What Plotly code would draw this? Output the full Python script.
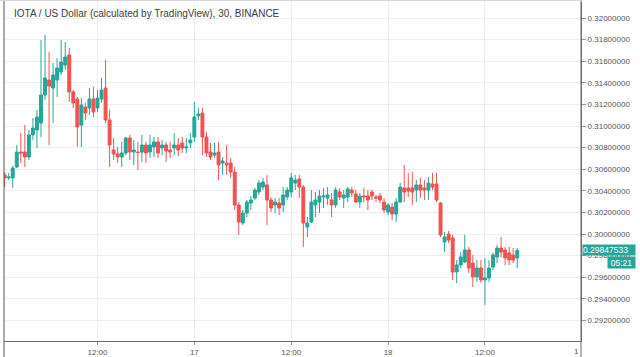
import pandas as pd
import plotly.graph_objects as go

title_text = "IOTA / US Dollar (calculated by TradingView), 30, BINANCE"
start_time = "2019-09-16 00:30"
interval = "30min"

opens = [0.30546, 0.30519, 0.30519, 0.30620, 0.30759, 0.30759, 0.30713, 0.30917, 0.30963, 0.31028,
         0.31287, 0.31426, 0.31352, 0.31426, 0.31500, 0.31565, 0.31657, 0.31315, 0.31250, 0.31009,
         0.31176, 0.31167, 0.31250, 0.31167, 0.31250, 0.31352, 0.31056, 0.30778, 0.30741, 0.30713,
         0.30750, 0.30889, 0.30759, 0.30759, 0.30759, 0.30824, 0.30759, 0.30806, 0.30852, 0.30796,
         0.30824, 0.30778, 0.30796, 0.30824, 0.30843, 0.30796, 0.30843, 0.30898, 0.31093, 0.31120,
         0.30898, 0.30759, 0.30731, 0.30759, 0.30657, 0.30657, 0.30657, 0.30574, 0.30269, 0.30102,
         0.30194, 0.30287, 0.30333, 0.30389, 0.30435, 0.30454, 0.30315, 0.30269, 0.30287, 0.30269,
         0.30343, 0.30389, 0.30472, 0.30509, 0.30435, 0.30065, 0.30111, 0.30269, 0.30296, 0.30343,
         0.30333, 0.30315, 0.30269, 0.30389, 0.30333, 0.30343, 0.30407, 0.30370, 0.30296, 0.30352,
         0.30352, 0.30389, 0.30343, 0.30352, 0.30296, 0.30204, 0.30250, 0.30185, 0.30296, 0.30426,
         0.30426, 0.30426, 0.30407, 0.30454, 0.30426, 0.30407, 0.30463, 0.30463, 0.30287, 0.29926,
         0.30000, 0.29963, 0.29648, 0.29713, 0.29741, 0.29852, 0.29731, 0.29602, 0.29685, 0.29574,
         0.29593, 0.29694, 0.29787, 0.29870, 0.29852, 0.29824, 0.29806, 0.29778]
highs = [0.30574, 0.30565, 0.30630, 0.30824, 0.30935, 0.31009, 0.30963, 0.31074, 0.31148, 0.31796,
         0.31843, 0.31685, 0.31583, 0.31630, 0.31796, 0.31778, 0.31722, 0.31333, 0.31269, 0.31259,
         0.31213, 0.31352, 0.31361, 0.31333, 0.31444, 0.31611, 0.31148, 0.30889, 0.30806, 0.30852,
         0.30898, 0.30917, 0.30870, 0.30852, 0.30917, 0.30852, 0.30917, 0.30898, 0.30898, 0.30870,
         0.30852, 0.30852, 0.30935, 0.30889, 0.30898, 0.30889, 0.30935, 0.31222, 0.31167, 0.31167,
         0.30944, 0.30843, 0.30843, 0.30852, 0.30713, 0.30824, 0.30704, 0.30620, 0.30296, 0.30222,
         0.30315, 0.30352, 0.30426, 0.30500, 0.30519, 0.30546, 0.30343, 0.30333, 0.30333, 0.30435,
         0.30435, 0.30565, 0.30546, 0.30546, 0.30454, 0.30157, 0.30407, 0.30389, 0.30407, 0.30426,
         0.30435, 0.30380, 0.30435, 0.30426, 0.30407, 0.30435, 0.30435, 0.30407, 0.30380, 0.30426,
         0.30407, 0.30407, 0.30361, 0.30380, 0.30333, 0.30287, 0.30287, 0.30333, 0.30472, 0.30639,
         0.30565, 0.30574, 0.30500, 0.30519, 0.30500, 0.30528, 0.30565, 0.30565, 0.30296, 0.30019,
         0.30028, 0.29991, 0.29759, 0.29833, 0.29991, 0.29880, 0.29806, 0.29759, 0.29759, 0.29778,
         0.29759, 0.29824, 0.29898, 0.29972, 0.29880, 0.29880, 0.29870, 0.29870]
lows = [0.30435, 0.30500, 0.30426, 0.30611, 0.30657, 0.30620, 0.30685, 0.30870, 0.30796, 0.30898,
        0.31241, 0.30824, 0.31028, 0.31269, 0.31472, 0.31519, 0.31222, 0.31167, 0.30806, 0.30806,
        0.31056, 0.31102, 0.31083, 0.31130, 0.31213, 0.31028, 0.30620, 0.30685, 0.30657, 0.30620,
        0.30731, 0.30685, 0.30639, 0.30593, 0.30667, 0.30657, 0.30704, 0.30713, 0.30704, 0.30731,
        0.30667, 0.30704, 0.30731, 0.30722, 0.30750, 0.30750, 0.30796, 0.30852, 0.31056, 0.30731,
        0.30713, 0.30685, 0.30704, 0.30500, 0.30546, 0.30546, 0.30519, 0.30222, 0.29991, 0.30083,
        0.30157, 0.30222, 0.30315, 0.30361, 0.30407, 0.30083, 0.30204, 0.30194, 0.30176, 0.30204,
        0.30315, 0.30343, 0.30407, 0.30333, 0.29880, 0.29972, 0.30102, 0.30157, 0.30194, 0.30241,
        0.30269, 0.30157, 0.30241, 0.30315, 0.30241, 0.30296, 0.30343, 0.30287, 0.30241, 0.30296,
        0.30222, 0.30315, 0.30296, 0.30287, 0.30194, 0.30176, 0.30130, 0.30111, 0.30287, 0.30296,
        0.30343, 0.30269, 0.30296, 0.30333, 0.30315, 0.30315, 0.30407, 0.30296, 0.29972, 0.29833,
        0.29917, 0.29574, 0.29546, 0.29685, 0.29731, 0.29639, 0.29509, 0.29556, 0.29546, 0.29343,
        0.29556, 0.29667, 0.29731, 0.29787, 0.29713, 0.29713, 0.29731, 0.29685]
closes = [0.30519, 0.30528, 0.30611, 0.30759, 0.30750, 0.30713, 0.30917, 0.30981, 0.31083, 0.31287,
          0.31444, 0.31370, 0.31472, 0.31537, 0.31593, 0.31639, 0.31315, 0.31213, 0.30991, 0.31194,
          0.31120, 0.31250, 0.31130, 0.31259, 0.31333, 0.31056, 0.30824, 0.30741, 0.30713, 0.30750,
          0.30889, 0.30759, 0.30778, 0.30754, 0.30824, 0.30750, 0.30824, 0.30852, 0.30750, 0.30824,
          0.30769, 0.30759, 0.30824, 0.30778, 0.30796, 0.30806, 0.30870, 0.31083, 0.31111, 0.30898,
          0.30750, 0.30713, 0.30750, 0.30639, 0.30676, 0.30639, 0.30574, 0.30269, 0.30111, 0.30194,
          0.30296, 0.30315, 0.30407, 0.30472, 0.30481, 0.30315, 0.30241, 0.30296, 0.30241, 0.30361,
          0.30407, 0.30519, 0.30500, 0.30435, 0.30102, 0.30102, 0.30296, 0.30315, 0.30352, 0.30352,
          0.30361, 0.30269, 0.30407, 0.30343, 0.30361, 0.30417, 0.30380, 0.30296, 0.30352, 0.30343,
          0.30315, 0.30352, 0.30333, 0.30315, 0.30222, 0.30269, 0.30185, 0.30296, 0.30435, 0.30389,
          0.30398, 0.30389, 0.30454, 0.30407, 0.30407, 0.30472, 0.30435, 0.30315, 0.29991, 0.29972,
          0.29944, 0.29648, 0.29713, 0.29787, 0.29852, 0.29685, 0.29602, 0.29685, 0.29574, 0.29593,
          0.29685, 0.29806, 0.29870, 0.29833, 0.29778, 0.29759, 0.29759, 0.29847533]

tick_times = ["2019-09-16 12:00", "2019-09-17 00:00", "2019-09-17 12:00",
              "2019-09-18 00:00", "2019-09-18 12:00"]
tick_labels = ["12:00", "17", "12:00", "18", "12:00"]
price_ticks = [0.292, 0.294, 0.296, 0.298, 0.300, 0.302, 0.304, 0.306,
               0.308, 0.310, 0.312, 0.314, 0.316, 0.318, 0.320]
last_price_label = "0.29847533"
countdown_label = "05:21"

times = pd.date_range(start_time, periods=len(opens), freq=interval)

UP = "#26a69a"
DOWN = "#ef5350"
AXIS = "#6b6b6b"
GRID = "#eeeeee"
FONT = "Liberation Sans"

W, H = 640, 357
ML, MR, MT, MB = 4, 59, 2, 16
PW, PH = W - ML - MR, H - MT - MB

fig = go.Figure()
fig.add_trace(go.Candlestick(
    x=times, open=opens, high=highs, low=lows, close=closes,
    increasing=dict(line=dict(color=UP, width=1), fillcolor=UP),
    decreasing=dict(line=dict(color=DOWN, width=1), fillcolor=DOWN),
    whiskerwidth=0, showlegend=False, hoverinfo="skip",
))

fig.update_layout(
    width=W, height=H,
    margin=dict(l=ML, r=MR, t=MT, b=MB, autoexpand=False),
    paper_bgcolor="white", plot_bgcolor="white",
    font=dict(family=FONT, size=8, color="#555555"),
    boxgap=0.15, boxgroupgap=0.15,
    xaxis=dict(
        type="date", automargin=False,
        range=["2019-09-16 00:25", "2019-09-18 23:54"],
        rangeslider=dict(visible=False),
        tickmode="array", tickvals=tick_times, ticktext=tick_labels,
        showgrid=True, gridcolor=GRID, gridwidth=1,
        showline=True, linecolor=AXIS, linewidth=1,
        ticks="outside", ticklen=3, tickcolor="#999999",
        tickfont=dict(family=FONT, size=8, color="#555555"),
        zeroline=False, fixedrange=True,
    ),
    yaxis=dict(
        side="right", automargin=False,
        range=[0.290093, 0.321481],
        tickmode="array", tickvals=price_ticks,
        tickformat=".8f",
        showgrid=True, gridcolor=GRID, gridwidth=1,
        showline=True, linecolor=AXIS, linewidth=1,
        ticks="outside", ticklen=4, tickcolor="#999999",
        tickfont=dict(family=FONT, size=8, color="#555555"),
        zeroline=False, fixedrange=True,
    ),
)

def px_x(px):
    return (px - ML) / PW

def px_y(py):
    return 1 - (py - MT) / PH

fig.add_shape(type="line", xref="paper", yref="paper", x0=0, x1=0,
              y0=px_y(H), y1=px_y(0), line=dict(color="#555555", width=1))
fig.add_shape(type="line", xref="paper", yref="paper", x0=1, x1=1,
              y0=px_y(H), y1=px_y(0), line=dict(color=AXIS, width=1))
fig.add_shape(type="line", xref="paper", yref="paper", x0=px_x(0), x1=1,
              y0=px_y(0.5), y1=px_y(0.5), line=dict(color="#d8d8d8", width=1))

fig.add_annotation(text=title_text, xref="paper", yref="paper",
                   x=px_x(12), y=px_y(13), xanchor="left", yanchor="middle",
                   showarrow=False, font=dict(family=FONT, size=10, color="#3c3c3c"))

fig.add_annotation(text="1", xref="paper", yref="paper",
                   x=px_x(581), y=px_y(351), xanchor="right", yanchor="middle",
                   showarrow=False, font=dict(family=FONT, size=8, color="#555555"))

fig.add_annotation(text=last_price_label, xref="paper", yref="y",
                   x=1, y=closes[-1], xanchor="left", yanchor="middle", xshift=1,
                   showarrow=False, bgcolor=UP, width=52, height=10, borderpad=0,
                   align="left", font=dict(family=FONT, size=8.5, color="white"))
fig.add_annotation(text=countdown_label, xref="paper", yref="y",
                   x=1, y=closes[-1], xanchor="left", yanchor="middle", xshift=26, yshift=-12,
                   showarrow=False, bgcolor=UP, width=27, height=11, borderpad=0,
                   font=dict(family=FONT, size=8.5, color="white"))

fig.write_html("out.html", config={"displayModeBar": False},
               post_script="document.body.style.margin='0';")
